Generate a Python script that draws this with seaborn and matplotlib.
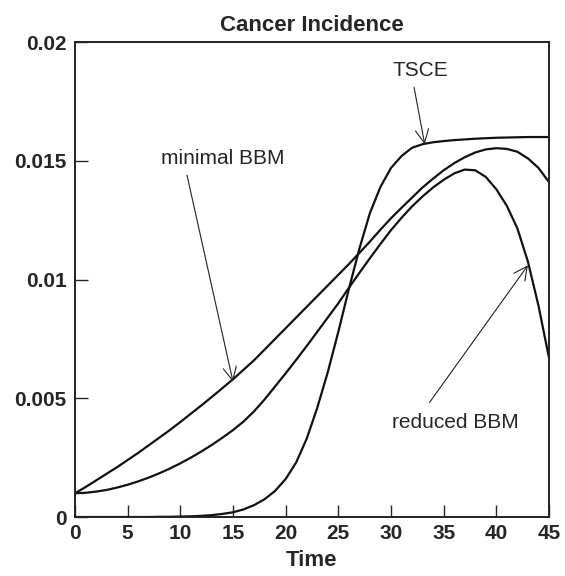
import matplotlib
matplotlib.use("Agg")
import matplotlib.pyplot as plt
import numpy as np
import pandas as pd
import seaborn as sns

# values (time steps of 1)
time = list(range(0, 46))

minimal_bbm = [
    0.00100, 0.00126, 0.00154, 0.00182, 0.00210, 0.00240, 0.00270, 0.00302,
    0.00334, 0.00366, 0.00400, 0.00435, 0.00470, 0.00506, 0.00543, 0.00580,
    0.00620, 0.00660, 0.00705, 0.00750, 0.00795, 0.00840, 0.00885, 0.00930,
    0.00975, 0.01020, 0.01065, 0.01112, 0.01160, 0.01210, 0.01258, 0.01302,
    0.01345, 0.01388, 0.01425, 0.01460, 0.01490, 0.01515, 0.01535, 0.01548,
    0.01553, 0.01550, 0.01538, 0.01510, 0.01470, 0.01410,
]

reduced_bbm = [
    0.00100, 0.00102, 0.00107, 0.00114, 0.00124, 0.00136, 0.00150, 0.00166,
    0.00184, 0.00204, 0.00226, 0.00250, 0.00276, 0.00304, 0.00334, 0.00366,
    0.00402, 0.00445, 0.00495, 0.00550, 0.00605, 0.00662, 0.00720, 0.00780,
    0.00840, 0.00900, 0.00965, 0.01028, 0.01090, 0.01150, 0.01208, 0.01260,
    0.01308, 0.01350, 0.01388, 0.01420, 0.01447, 0.01463, 0.01460, 0.01432,
    0.01380, 0.01310, 0.01215, 0.01075, 0.00890, 0.00670,
]

tsce = [
    0.0, 0.0, 0.0, 0.0, 0.0, 0.0, 0.0, 0.0,
    0.00001, 0.00001, 0.00002, 0.00003, 0.00005, 0.00008, 0.00013, 0.00020,
    0.00032, 0.00050, 0.00075, 0.00110, 0.00160, 0.00230, 0.00330, 0.00460,
    0.00610, 0.00780, 0.00960, 0.01130, 0.01280, 0.01390, 0.01470, 0.01520,
    0.01555, 0.01570, 0.01578, 0.01583, 0.01587, 0.01590, 0.01593, 0.01595,
    0.01597, 0.01598, 0.01599, 0.01600, 0.01600, 0.01600,
]

x_ticks = [0, 5, 10, 15, 20, 25, 30, 35, 40, 45]
y_ticks = [0, 0.005, 0.01, 0.015, 0.02]
y_tick_labels = ["0", "0.005", "0.01", "0.015", "0.02"]

df = pd.DataFrame({
    "Time": time * 3,
    "value": minimal_bbm + reduced_bbm + tsce,
    "model": ["minimal BBM"] * 46 + ["reduced BBM"] * 46 + ["TSCE"] * 46,
})

sns.set_style("ticks")
plt.rcParams["font.family"] = ["Liberation Sans", "DejaVu Sans"]

fig = plt.figure(figsize=(5.65, 5.76), dpi=100)
ax = fig.add_axes([0.1327, 0.1024, 0.8390, 0.8246])

for name in ["minimal BBM", "reduced BBM", "TSCE"]:
    sns.lineplot(
        data=df[df["model"] == name], x="Time", y="value",
        color="#111111", linewidth=1.6, ax=ax, legend=False,
    )

ax.set_xlim(0, 45)
ax.set_ylim(0, 0.02)
ax.set_xticks(x_ticks)
ax.set_yticks(y_ticks)
ax.set_yticklabels(y_tick_labels)
ax.tick_params(direction="in", length=9, width=1.0, labelsize=15, pad=6,
               top=False, right=False)
ax.tick_params(axis="x", pad=5)
for lab in ax.get_xticklabels() + ax.get_yticklabels():
    lab.set_fontweight("bold")
for sp in ax.spines.values():
    sp.set_linewidth(1.4)
    sp.set_color("#222222")

ax.set_xlabel("Time", fontsize=16, fontweight="bold", labelpad=5)
ax.set_ylabel("")
ax.set_title("Cancer Incidence", fontsize=16, fontweight="bold", pad=8)

arrow = dict(arrowstyle="->", color="#222222", lw=0.8, mutation_scale=24,
             shrinkA=3, shrinkB=0)
ax.annotate("minimal BBM", xy=(15, 0.0057), xytext=(14.0, 0.0151),
            ha="center", va="center", fontsize=15,
            arrowprops=dict(arrow, relpos=(0.2, 0.0)))
ax.annotate("TSCE", xy=(33.2, 0.0157), xytext=(32.8, 0.0188),
            ha="center", va="center", fontsize=15,
            arrowprops=dict(arrow, relpos=(0.36, 0.0)))
ax.annotate("reduced BBM", xy=(43.0, 0.0106), xytext=(36.1, 0.0040),
            ha="center", va="center", fontsize=15,
            arrowprops=dict(arrow, relpos=(0.24, 1.0), shrinkA=6))

fig.savefig("out.png", dpi=100)
